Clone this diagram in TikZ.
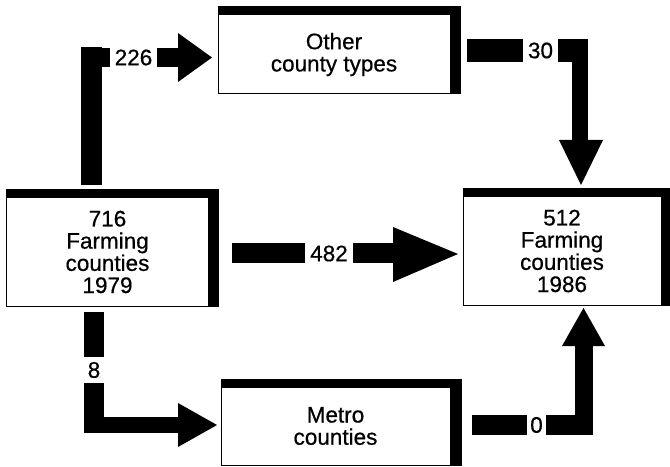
\documentclass[tikz,border=0pt]{standalone}
\usepackage{fontspec}
\setmainfont[FakeBold=0.6]{Liberation Sans}
\usetikzlibrary{backgrounds}
\begin{document}
\begin{tikzpicture}[x=1bp,y=-1bp,
  box/.style={draw, line width=1bp, fill=white, inner sep=0pt, align=center,
    font=\fontsize{22.5bp}{22.2bp}\selectfont},
  num/.style={fill=white, inner sep=0pt, minimum height=26bp,
    font=\fontsize{22.5bp}{22bp}\selectfont},
  bar/.style={line width=#1, line cap=butt},
  head/.style={fill=black},
]
\useasboundingbox (0,0) rectangle (670,467);

% boxes
\node[box, minimum width=201bp, minimum height=108bp] (L) at (107.5,252) {716\\Farming\\counties\\1979};
\node[box, minimum width=232bp, minimum height=79bp] (O) at (334,54.5) {Other\\county types};
\node[box, minimum width=198bp, minimum height=108bp] (R) at (562,251) {512\\Farming\\counties\\1986};
\node[box, minimum width=229bp, minimum height=78bp] (M) at (335.5,426) {Metro\\counties};

\begin{scope}[on background layer]
  \fill ([yshift=8bp]L.north west) rectangle ([xshift=10bp]L.south east);
  \fill ([yshift=8bp]O.north west) rectangle ([xshift=10bp]O.south east);
  \fill ([yshift=8bp]R.north west) rectangle ([xshift=8bp]R.south east);
  \fill ([yshift=8bp]M.north west) rectangle ([xshift=11bp]M.south east);
\end{scope}

% 226 : L -> O
\coordinate (a1) at (91.5,185);
\coordinate (a2) at (91.5,47.5);
\coordinate (a3) at (81,57.5);
\coordinate (a4) at (178,57.5);
\draw[bar=21bp] (a1) -- (a2);
\draw[bar=19.5bp] (a3) -- (a4);
\fill[head] (178,33) -- (212,57.5) -- (178,82) -- cycle;
\node[num, minimum width=47bp] (n226) at (133.5,57.5) {226};

% 30 : O -> R
\coordinate (b1) at (467,50.5);
\coordinate (b2) at (588,50.5);
\coordinate (b3) at (580,39);
\coordinate (b4) at (580,140);
\draw[bar=23bp] (b1) -- (b2);
\draw[bar=16bp] (b3) -- (b4);
\fill[head] (559,140) -- (581,185) -- (603,140) -- cycle;
\node[num, minimum width=35bp] (n30) at (540.5,50.5) {30};

% 482 : L -> R
\coordinate (c1) at (232,253.5);
\coordinate (c2) at (393,253.5);
\draw[bar=20bp] (c1) -- (c2);
\fill[head] (393,227) -- (458,254) -- (393,282) -- cycle;
\node[num, minimum width=48bp] (n482) at (329,253.5) {482};

% 8 : L -> M
\coordinate (d1) at (94,312);
\coordinate (d2) at (94,433);
\coordinate (d3) at (84,425);
\coordinate (d4) at (178,425);
\draw[bar=20bp] (d1) -- (d2);
\draw[bar=16bp] (d3) -- (d4);
\fill[head] (178,403) -- (217,425) -- (178,447) -- cycle;
\node[num, minimum width=24bp] (n8) at (94,370) {8};

% 0 : M -> R
\coordinate (e1) at (472,425);
\coordinate (e2) at (593,425);
\coordinate (e3) at (584,435);
\coordinate (e4) at (584,346);
\draw[bar=20bp] (e1) -- (e2);
\draw[bar=18bp] (e3) -- (e4);
\fill[head] (562,346) -- (583.5,308) -- (605,346) -- cycle;
\node[num, minimum width=19bp] (n0) at (536.5,425) {0};
\end{tikzpicture}
\end{document}
